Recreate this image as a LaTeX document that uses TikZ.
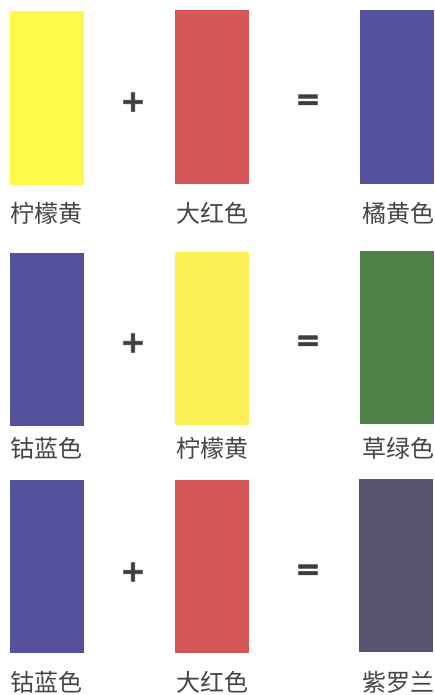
\documentclass[tikz,border=0pt]{standalone}
\usepackage{fontspec}
\newfontfamily\cjk{Noto Sans CJK SC}
\newfontfamily\signfont{DejaVu Sans}[FakeBold=2]
\definecolor{cyellow}{HTML}{FEF84A}
\definecolor{cyellowb}{HTML}{FCF057}
\definecolor{cred}{HTML}{D55558}
\definecolor{cblue}{HTML}{55519A}
\definecolor{cgreen}{HTML}{4E8249}
\definecolor{cviolet}{HTML}{56546F}
\definecolor{txt}{HTML}{454545}
\begin{document}
\begin{tikzpicture}[x=1pt,y=-1pt,
  swatch/.style={draw=none,inner sep=0pt,minimum width=74pt,minimum height=173pt},
  lbl/.style={font=\cjk\fontsize{24}{26}\selectfont,text=txt,inner sep=0pt},
  sign/.style={font=\signfont\bfseries\fontsize{30}{32}\selectfont,text=txt!90!black,inner sep=0pt}]
\useasboundingbox (0,0) rectangle (435,695);
% row 1
\node[swatch,fill=cyellow] (a1) at (46.5,98) {};
\node[swatch,fill=cred] (b1) at (212,97) {};
\node[swatch,fill=cblue] (c1) at (397,97) {};
\node[sign] (p1) at (133,102) {+};
\node[sign] (e1) at (308,102) {=};
\node[lbl] (la1) at (46.5,213) {柠檬黄};
\node[lbl] (lb1) at (212,213) {大红色};
\node[lbl] (lc1) at (398,213) {橘黄色};
% row 2
\node[swatch,fill=cblue] (a2) at (46.5,339) {};
\node[swatch,fill=cyellowb] (b2) at (212,338) {};
\node[swatch,fill=cgreen] (c2) at (396.5,337) {};
\node[sign] (p2) at (133,343) {+};
\node[sign] (e2) at (308,343) {=};
\node[lbl] (la2) at (46.5,448) {钴蓝色};
\node[lbl] (lb2) at (212,448) {柠檬黄};
\node[lbl] (lc2) at (398,448) {草绿色};
% row 3
\node[swatch,fill=cblue] (a3) at (46.5,566.5) {};
\node[swatch,fill=cred] (b3) at (212,566) {};
\node[swatch,fill=cviolet] (c3) at (395.5,565.5) {};
\node[sign] (p3) at (133,572) {+};
\node[sign] (e3) at (308,572) {=};
\node[lbl] (la3) at (46.5,682) {钴蓝色};
\node[lbl] (lb3) at (212,682) {大红色};
\node[lbl] (lc3) at (398,682) {紫罗兰};
\end{tikzpicture}
\end{document}
